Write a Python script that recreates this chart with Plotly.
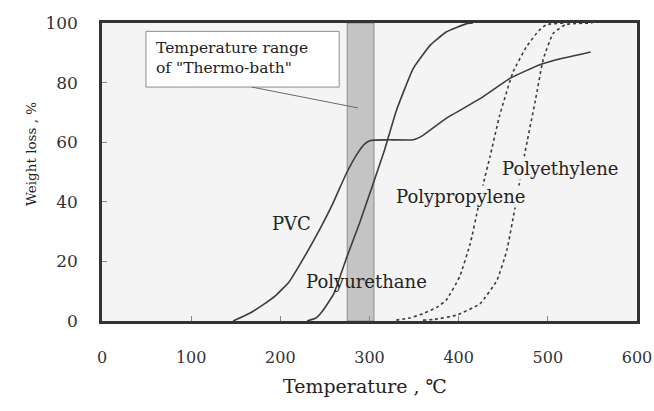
import plotly.graph_objects as go

# ---- data ----
pvc_x = [147, 165, 180, 195, 210, 222, 241, 259, 274, 286, 295, 301, 320, 349, 360, 386, 424, 458, 491, 514, 548]
pvc_y = [0, 2.5, 5.3, 8.6, 13.2, 19, 29, 39.5, 49.5, 56, 59.5, 60.6, 60.8, 60.8, 62.3, 68, 74.6, 81.5, 86, 88, 90.3]

pu_x = [230, 240, 248, 260, 274, 289, 304, 317, 330, 349, 368, 386, 409, 416]
pu_y = [0, 1, 3.6, 9.2, 21, 33, 46, 57.5, 70.5, 84.7, 92.5, 97, 99.8, 100]

pp_x = [330, 345, 360, 375, 386, 401, 413, 422, 428, 435, 446, 461, 476, 490, 499, 520]
pp_y = [0.3, 1, 2.5, 4.5, 7, 14.8, 26, 38.3, 46.5, 55, 69, 83.6, 92, 97.5, 99.5, 100]

pe_x = [360, 372, 398, 424, 443, 454, 463, 474, 486, 495, 506, 520, 550]
pe_y = [0.3, 0.5, 2, 5.8, 13.7, 23.7, 37.7, 56, 74, 88, 96.5, 99.5, 100]

band_range = [275, 305]
x_ticks = [0, 100, 200, 300, 400, 500, 600]
y_ticks = [0, 20, 40, 60, 80, 100]

labels = ["PVC", "Polyurethane", "Polypropylene", "Polyethylene"]
label_x = [212, 297, 402.6, 513.6]
label_y = [32.8, 13.3, 41.8, 51.2]

SERIF = "DejaVu Serif"
PLOT_BG = "#f4f4f4"
LINE = "#3c3c3c"

W, H = 654, 411
L, R, T, B = 102, 17, 23, 90

fig = go.Figure()

def add_curve(xs, ys, dash):
    fig.add_trace(go.Scatter(
        x=xs, y=ys, mode="lines",
        line=dict(color=LINE, width=1.6, dash=dash, shape="spline", smoothing=0.4),
        hoverinfo="skip", showlegend=False,
    ))

add_curve(pvc_x, pvc_y, "solid")
add_curve(pu_x, pu_y, "solid")
add_curve(pp_x, pp_y, "dot")
add_curve(pe_x, pe_y, "dot")

# temperature band of thermo-bath
fig.add_shape(type="rect", xref="x", yref="y", x0=band_range[0], x1=band_range[1],
              y0=0, y1=100, fillcolor="#c4c4c4", line=dict(color="#8a8a8a", width=1),
              layer="below")

# callout box + leader line
fig.add_shape(type="rect", xref="x", yref="y", x0=49.3, x1=266, y0=78.5, y1=97.2,
              fillcolor="white", line=dict(color="#8c8c8c", width=1), layer="above")
fig.add_shape(type="line", xref="x", yref="y", x0=168, y0=78.5, x1=287, y1=71.5,
              line=dict(color="#6a6a6a", width=1), layer="above")
fig.add_annotation(x=58, y=88.2, xref="x", yref="y", xanchor="left", yanchor="middle",
                   align="left", showarrow=False,
                   text="Temperature range<br>of \"Thermo-bath\"",
                   font=dict(family=SERIF, size=15.5, color="#222"))

# curve labels
for t, lx, ly in zip(labels, label_x, label_y):
    bg = PLOT_BG if t in ("Polypropylene", "Polyethylene") else None
    fig.add_annotation(x=lx, y=ly, xref="x", yref="y", showarrow=False, text=t,
                       bgcolor=bg, borderpad=0,
                       font=dict(family=SERIF, size=18, color="#222"))

# axis titles (positions given in pixels, converted to paper coords)
def px_to_paper(px, py):
    return (px - L) / (W - L - R), (H - B - py) / (H - T - B)

ax_, ay_ = px_to_paper(365, 399)
fig.add_annotation(x=ax_, y=ay_, xref="paper", yref="paper", showarrow=False,
                   text="Temperature , ℃", font=dict(family=SERIF, size=19, color="#222"))
bx_, by_ = px_to_paper(21, 154)
fig.add_annotation(x=bx_, y=by_, xref="paper", yref="paper", showarrow=False,
                   text="Weight loss , %", textangle=-90,
                   font=dict(family=SERIF, size=13.5, color="#222"))

fig.update_layout(
    width=W, height=H,
    margin=dict(l=L, r=R, t=T, b=B, autoexpand=False),
    paper_bgcolor="white", plot_bgcolor=PLOT_BG,
    font=dict(family=SERIF, color="#222"),
)
fig.update_xaxes(range=[0, 600], tickvals=x_ticks, ticks="inside", ticklen=5,
                 tickcolor="#888", showgrid=False, zeroline=False, automargin=False,
                 showline=True, mirror=True, linecolor="#333", linewidth=2.5,
                 tickfont=dict(family=SERIF, size=16, color="#333"),
                 ticklabelstandoff=20)
fig.update_yaxes(range=[0, 100], tickvals=y_ticks, ticks="inside", ticklen=5,
                 tickcolor="#888", showgrid=False, zeroline=False, automargin=False,
                 showline=True, mirror=True, linecolor="#333", linewidth=2.5,
                 tickfont=dict(family=SERIF, size=17, color="#333"),
                 ticklabelstandoff=18)

fig.write_html("out.html")
